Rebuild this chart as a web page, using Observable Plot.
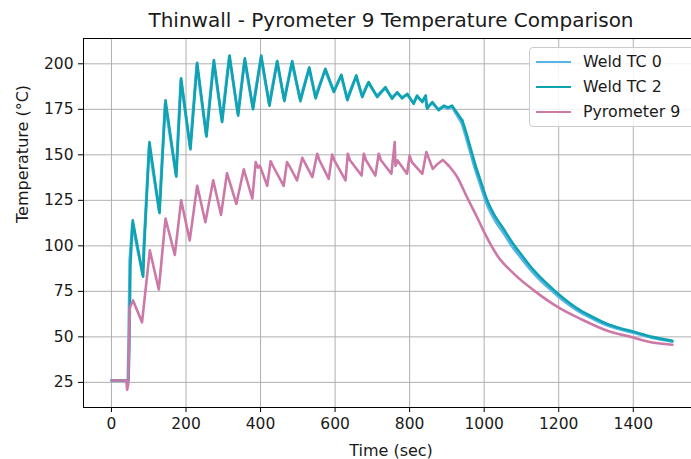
<!DOCTYPE html>
<html>
<head>
<meta charset="utf-8">
<script src="https://cdn.jsdelivr.net/npm/d3@7"></script>
<script src="https://cdn.jsdelivr.net/npm/@observablehq/plot@0.6"></script>
<style>
  html, body { margin: 0; padding: 0; background: white; overflow: hidden; }
  #wrap { position: relative; width: 691px; height: 459px; overflow: hidden; font-family: "DejaVu Sans", sans-serif; }
  #wrap svg { max-width: none !important; }
  #legend { position: absolute; left: 529px; top: 47px; width: 175px; height: 80px; box-sizing: border-box;
            border: 1px solid #cccccc; border-radius: 4px; background: rgba(255,255,255,0.85); }
  .row { position: absolute; left: 0; height: 20px; }
  .sw { position: absolute; left: 6px; top: 9px; width: 35px; height: 2px; }
  .lab { position: absolute; left: 53px; top: 0; font-size: 15.8px; line-height: 20px; color: #1a1a1a; white-space: nowrap; }
</style>
</head>
<body>
<div id="wrap"></div>
<script>
const title = "Thinwall - Pyrometer 9 Temperature Comparison";
const xLabel = "Time (sec)";
const yLabel = "Temperature (°C)";
const xTicks = [0, 200, 400, 600, 800, 1000, 1200, 1400];
const yTicks = [25, 50, 75, 100, 125, 150, 175, 200];
const seriesNames = ["Weld TC 0", "Weld TC 2", "Pyrometer 9"];
const seriesColors = ["#56B4E9", "#0fa3b1", "#cc79a7"];

const tc2Time = [0,46,48,51,57,85,88,102,129,145,174,187,212,230,255,275,297,317,340,358,380,402,424,445,464,485,507,531,548,574,597,617,633,657,673,690,713,735,753,767,780,794,811,820,834,843,847,861,878,892,903,914,932,941,952,963,977,990,1008,1030,1053,1075,1098,1125,1151,1175,1199,1230,1259,1295,1330,1365,1399,1450,1505];
const tc2Temp = [26,26,45,90,114,83,100,157,118,180,138,192,153,200.5,160,202,168,204.5,171.5,203,175,204.5,177,201.5,179.5,201.5,179.5,198,181,197.3,184.5,194,180,193.6,181.7,190,181.7,187.2,180.8,184.4,181,183.5,178,182.6,179,182.6,175.3,179,174.5,177,176,177,171.6,169,162,154,144,136,125,116,109,102,95.6,88.5,82.7,78,73.6,68.5,64.4,60.5,57.1,54.8,52.9,50,47.9];

const tc0Time = [0,44,46,49,56,84,87,101,128,144,173,186,211,229,254,274,296,316,339,357,379,401,423,444,463,484,506,530,547,573,596,616,632,656,672,689,712,734,752,766,779,793,810,819,833,842,846,860,877,891,902,913,931,940,951,962,976,989,1007,1029,1052,1074,1097,1124,1150,1174,1198,1229,1258,1294,1329,1364,1398,1449,1505];
const tc0Temp = [26,26,48,92,112,84,101,155,119,178,139,191,154,199.5,161,201,169,204,172.5,202,176,203.5,178,201,180.5,200.5,180.5,197.5,182,196.5,185,193.5,181,193,182.5,189.5,182.5,186.5,181.5,184,181.5,183,178.5,182,179.5,182,176,178.5,175,176.5,175.5,176.5,170.5,167.5,160,152,142,134,123,114,107,100,93.8,87,81.2,76.7,72.4,67.5,63.5,59.7,56.4,54.2,52.4,49.6,47.4];

const pyroTime = [0,40,42,45,47,49,58,82,103,127,145,170,187,210,230,252,273,294,310,335,355,378,387,393,398,418,427,433,462,471,477,498,512,518,539,552,558,583,592,598,628,634,640,671,677,683,708,717,723,751,760,762,767,793,800,806,834,845,862,875,889,905,928,954,981,1000,1035,1080,1134,1199,1259,1330,1399,1438,1505];
const pyroTemp = [26,26,21,24,45,66,70,58,97.5,76,115,95,125,103,133,113,136,117,140,123,142,126,146,143,144,133,146.5,144,133,146,144,136,148.4,146,137.7,150.6,147,136.8,150.2,147,135.9,150.6,147,138.6,150.6,147,138.6,150.6,147,139.6,157,144,147,139.6,149.6,146,139.6,151.5,142.3,145,147.2,144,137.7,126.7,115.7,107.5,94.7,84.6,75.4,66.2,59.8,53.4,49.7,47.5,45.7];

const toRows = (ts, vs) => ts.map((t, i) => ({t, v: vs[i]}));
const tc0 = toRows(tc0Time, tc0Temp);
const tc2 = toRows(tc2Time, tc2Temp);
const pyro = toRows(pyroTime, pyroTemp);

// heating/plateau part drawn linear, cooling tail drawn smooth
const split = (rows, t0) => [rows.filter(d => d.t <= t0), rows.filter(d => d.t >= t0)];
const [tc0a, tc0b] = split(tc0, 940);
const [tc2a, tc2b] = split(tc2, 941);
const [pya, pyb] = split(pyro, 905);

const fmt = d3.format("d");

const chart = Plot.plot({
  width: 700,
  height: 459,
  marginLeft: 83,
  marginRight: 2,
  marginTop: 38,
  marginBottom: 52,
  style: {fontFamily: "DejaVu Sans, sans-serif", fontSize: "15.5px", color: "#1a1a1a", background: "white", maxWidth: "none", overflow: "visible"},
  x: {domain: [-75, 1575]},
  y: {domain: [11.2, 213.9]},
  marks: [
    Plot.gridX(xTicks, {stroke: "#b0b0b0", strokeOpacity: 1, strokeWidth: 1}),
    Plot.gridY(yTicks, {stroke: "#b0b0b0", strokeOpacity: 1, strokeWidth: 1}),
    Plot.line(tc0a, {x: "t", y: "v", stroke: seriesColors[0], strokeWidth: 2.8}),
    Plot.line(tc0b, {x: "t", y: "v", stroke: seriesColors[0], strokeWidth: 2.8, curve: "monotone-x"}),
    Plot.line(tc2a, {x: "t", y: "v", stroke: seriesColors[1], strokeWidth: 2.6}),
    Plot.line(tc2b, {x: "t", y: "v", stroke: seriesColors[1], strokeWidth: 2.6, curve: "monotone-x"}),
    Plot.line(pya, {x: "t", y: "v", stroke: seriesColors[2], strokeWidth: 2.6}),
    Plot.line(pyb, {x: "t", y: "v", stroke: seriesColors[2], strokeWidth: 2.6, curve: "monotone-x"}),
    Plot.frame({stroke: "#000", strokeWidth: 1}),
    Plot.axisX(xTicks, {tickSize: 5, tickPadding: 5, label: null, fontSize: 15.5, stroke: "#000", tickFormat: fmt}),
    Plot.axisY(yTicks, {tickSize: 5, tickPadding: 5, label: null, fontSize: 15.5, stroke: "#000", tickFormat: fmt}),
    Plot.text([title], {frameAnchor: "top", lineAnchor: "middle", dy: -18, fontSize: 20, fill: "#1a1a1a"}),
    Plot.text([xLabel], {frameAnchor: "bottom", lineAnchor: "middle", dy: 43, fontSize: 16, fill: "#1a1a1a"}),
    Plot.text([yLabel], {frameAnchor: "left", lineAnchor: "middle", dx: -61, rotate: -90, fontSize: 16, fill: "#1a1a1a"})
  ]
});

const wrap = document.getElementById("wrap");
wrap.appendChild(chart);

const legend = document.createElement("div");
legend.id = "legend";
seriesNames.forEach((name, i) => {
  const row = document.createElement("div");
  row.className = "row";
  row.style.top = (4 + i * 25) + "px";
  row.style.width = "170px";
  const sw = document.createElement("div");
  sw.className = "sw";
  sw.style.background = seriesColors[i];
  const lab = document.createElement("div");
  lab.className = "lab";
  lab.textContent = name;
  row.appendChild(sw);
  row.appendChild(lab);
  legend.appendChild(row);
});
wrap.appendChild(legend);
</script>
</body>
</html>
